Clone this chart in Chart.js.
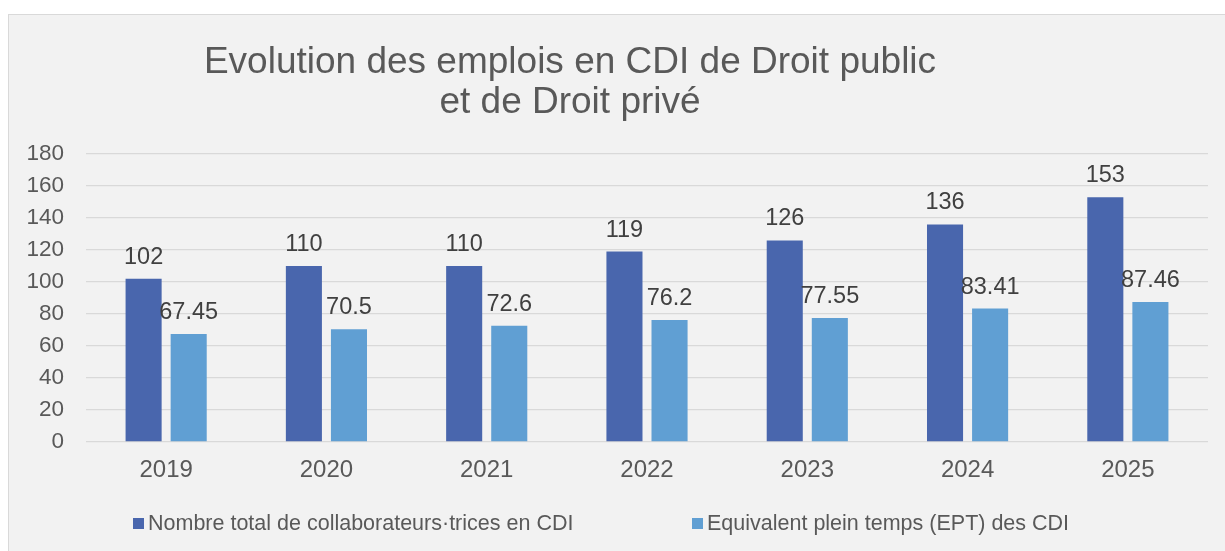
<!DOCTYPE html>
<html lang="fr">
<head>
    <meta charset="UTF-8">
    <title>Evolution des emplois en CDI</title>
    <script src="https://cdn.jsdelivr.net/npm/chart.js"></script>
    <style>
        body { margin: 0; background: #ffffff; }
        #chartBox {
            position: absolute;
            left: 8px;
            top: 14px;
            width: 1216px;
            height: 536px;
            border-left: 1px solid #d9d9d9;
            border-top: 1px solid #d9d9d9;
            background: #f2f2f2;
        }
    </style>
</head>
<body>

    <div id="chartBox">
        <canvas id="cdiChart"></canvas>
    </div>

    <script>
        // data
        const years = ['2019', '2020', '2021', '2022', '2023', '2024', '2025'];
        const totalCdi = [102, 110, 110, 119, 126, 136, 153];
        const eptCdi = [67.45, 70.5, 72.6, 76.2, 77.55, 83.41, 87.46];
        const seriesNames = ['Nombre total de collaborateurs·trices en CDI', 'Equivalent plein temps (EPT) des CDI'];
        const titleLines = ['Evolution des emplois en CDI de Droit public', 'et de Droit privé'];
        const yTicks = [0, 20, 40, 60, 80, 100, 120, 140, 160, 180];

        const fontFamily = "'Liberation Sans', Arial, sans-serif";
        const textColor = '#595959';

        // title drawn by hand because it sits left of the canvas centre
        const titlePlugin = {
            id: 'offsetTitle',
            afterDraw(chart) {
                const ctx = chart.ctx;
                ctx.save();
                ctx.font = '37px ' + fontFamily;
                ctx.fillStyle = textColor;
                ctx.textAlign = 'center';
                ctx.textBaseline = 'alphabetic';
                ctx.fillText(titleLines[0], 561, 58);
                ctx.fillText(titleLines[1], 561, 98);
                ctx.restore();
            }
        };

        // value labels above each bar
        const valueLabels = {
            id: 'valueLabels',
            afterDatasetsDraw(chart) {
                const ctx = chart.ctx;
                ctx.save();
                ctx.font = '23.5px ' + fontFamily;
                ctx.fillStyle = '#404040';
                ctx.textAlign = 'center';
                ctx.textBaseline = 'alphabetic';
                chart.data.datasets.forEach((ds, i) => {
                    chart.getDatasetMeta(i).data.forEach((bar, j) => {
                        ctx.fillText(String(ds.data[j]), bar.x, bar.y - 15);
                    });
                });
                ctx.restore();
            }
        };

        // legend at the bottom, items placed like the original
        const legendX = [124, 683];
        const bottomLegend = {
            id: 'bottomLegend',
            afterDraw(chart) {
                const ctx = chart.ctx;
                ctx.save();
                ctx.font = '21.5px ' + fontFamily;
                ctx.textBaseline = 'middle';
                ctx.textAlign = 'left';
                const y = 509;
                chart.data.datasets.forEach((ds, i) => {
                    const x = legendX[i];
                    ctx.fillStyle = ds.backgroundColor;
                    ctx.fillRect(x, y - 6, 11, 11);
                    ctx.fillStyle = textColor;
                    ctx.fillText(ds.label, x + 15, y);
                });
                ctx.restore();
            }
        };

        new Chart(document.getElementById('cdiChart'), {
            type: 'bar',
            data: {
                labels: years,
                datasets: [
                    {
                        label: seriesNames[0],
                        data: totalCdi,
                        backgroundColor: '#4966ad',
                        categoryPercentage: 0.5625,
                        barPercentage: 0.8
                    },
                    {
                        label: seriesNames[1],
                        data: eptCdi,
                        backgroundColor: '#609fd3',
                        categoryPercentage: 0.5625,
                        barPercentage: 0.8
                    }
                ]
            },
            options: {
                responsive: true,
                maintainAspectRatio: false,
                animation: false,
                layout: {
                    padding: { top: 139, right: 17, bottom: 0, left: 0 }
                },
                scales: {
                    x: {
                        grid: { display: false, drawTicks: false },
                        border: { display: false },
                        ticks: {
                            color: textColor,
                            font: { family: fontFamily, size: 24 },
                            padding: 14
                        },
                        afterFit(axis) {
                            axis.height = 109;
                        }
                    },
                    y: {
                        min: 0,
                        max: 180,
                        afterBuildTicks(axis) {
                            axis.ticks = yTicks.map(v => ({ value: v }));
                        },
                        grid: { color: '#d9d9d9', lineWidth: 1.3, drawTicks: false },
                        border: { display: false },
                        ticks: {
                            color: textColor,
                            font: { family: fontFamily, size: 22.5 },
                            padding: 22
                        },
                        afterFit(axis) {
                            axis.width = 77;
                        }
                    }
                },
                plugins: {
                    legend: { display: false },
                    title: { display: false },
                    tooltip: { enabled: false }
                }
            },
            plugins: [titlePlugin, valueLabels, bottomLegend]
        });
    </script>

</body>
</html>
